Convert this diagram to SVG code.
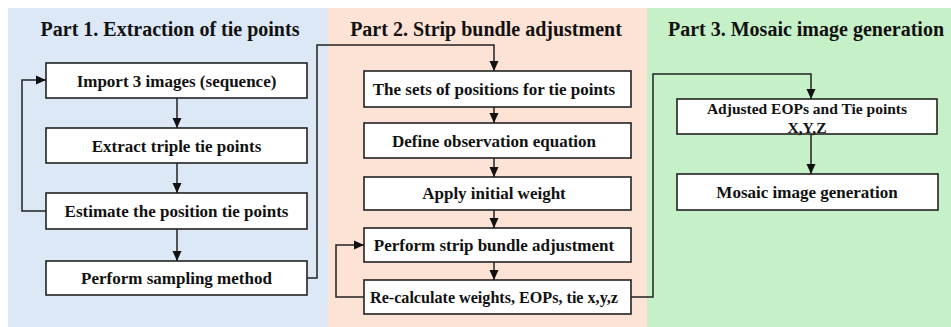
<svg xmlns="http://www.w3.org/2000/svg" width="951" height="327" viewBox="0 0 951 327">
<defs>
<marker id="ah" markerUnits="userSpaceOnUse" markerWidth="10" markerHeight="10" viewBox="0 0 10 10" refX="10" refY="5" orient="auto">
<path d="M0,0.5 L10,5 L0,9.5 Z" fill="#111"/>
</marker>
<style>
.bx{fill:#fff;stroke:#222;stroke-width:1.6}
.t{font-family:"Liberation Serif","Times New Roman",serif;font-weight:bold;fill:#111;text-anchor:middle}
.tt{font-size:20px}
.bt{font-size:17px}
.st{font-size:15.5px}
.c{fill:none;stroke:#222;stroke-width:1.5}
</style>
</defs>
<rect x="0" y="0" width="951" height="327" fill="#fff"/>
<rect x="8" y="8" width="320" height="319" fill="#dce8f6"/>
<rect x="328" y="8" width="319" height="319" fill="#fde2d6"/>
<rect x="647" y="8" width="304" height="319" fill="#c6f0c8"/>
<text class="t tt" x="170" y="36">Part 1. Extraction  of tie points</text>
<text class="t tt" x="486" y="36">Part 2. Strip bundle adjustment</text>
<text class="t tt" x="806" y="36">Part 3. Mosaic image generation</text>

<g id="n1"><rect class="bx" x="46" y="63" width="261" height="35"/><text class="t bt" x="176.5" y="87">Import  3 images (sequence)</text></g>
<g id="n2"><rect class="bx" x="46" y="128" width="261" height="35"/><text class="t bt" x="176.5" y="152">Extract triple tie points</text></g>
<g id="n3"><rect class="bx" x="46" y="193" width="261" height="36"/><text class="t bt" x="176.5" y="217">Estimate the position tie points</text></g>
<g id="n4"><rect class="bx" x="46" y="261" width="261" height="34"/><text class="t bt" x="176.5" y="284">Perform sampling method</text></g>

<g id="n5"><rect class="bx" x="364" y="71" width="267" height="36"/><text class="t bt" x="494" y="95">The sets of positions for tie points</text></g>
<g id="n6"><rect class="bx" x="364" y="123" width="267" height="35"/><text class="t bt" x="494" y="147">Define observation equation</text></g>
<g id="n7"><rect class="bx" x="364" y="177" width="267" height="33"/><text class="t bt" x="494" y="199">Apply initial weight</text></g>
<g id="n8"><rect class="bx" x="364" y="228" width="267" height="34"/><text class="t bt" x="494" y="251">Perform strip bundle adjustment</text></g>
<g id="n9"><rect class="bx" x="364" y="280" width="267" height="34"/><text class="t bt" x="494" y="303" textLength="248" lengthAdjust="spacingAndGlyphs">Re-calculate weights, EOPs, tie x,y,z</text></g>

<g id="n10"><rect class="bx" x="677" y="99" width="260" height="35"/><text class="t st" x="807" y="114">Adjusted EOPs and Tie points</text><text class="t st" x="807" y="133">X,Y,Z</text></g>
<g id="n11"><rect class="bx" x="677" y="174" width="261" height="36"/><text class="t bt" x="807" y="198">Mosaic image generation</text></g>

<g id="connectors">
<path class="c" d="M177,98 V128" marker-end="url(#ah)"/>
<path class="c" d="M177,163 V193" marker-end="url(#ah)"/>
<path class="c" d="M177,229 V261" marker-end="url(#ah)"/>
<path class="c" d="M46,211 H22 V80 H46" marker-end="url(#ah)"/>
<path class="c" d="M307,278 H317 V45 H494 V71" marker-end="url(#ah)"/>
<path class="c" d="M494,107 V123" marker-end="url(#ah)"/>
<path class="c" d="M494,158 V177" marker-end="url(#ah)"/>
<path class="c" d="M494,210 V228" marker-end="url(#ah)"/>
<path class="c" d="M494,262 V280" marker-end="url(#ah)"/>
<path class="c" d="M364,297 H336 V245 H364" marker-end="url(#ah)"/>
<path class="c" d="M631,297 H653 V74 H811 V99" marker-end="url(#ah)"/>
<path class="c" d="M811,134 V174" marker-end="url(#ah)"/>
</g>
</svg>
